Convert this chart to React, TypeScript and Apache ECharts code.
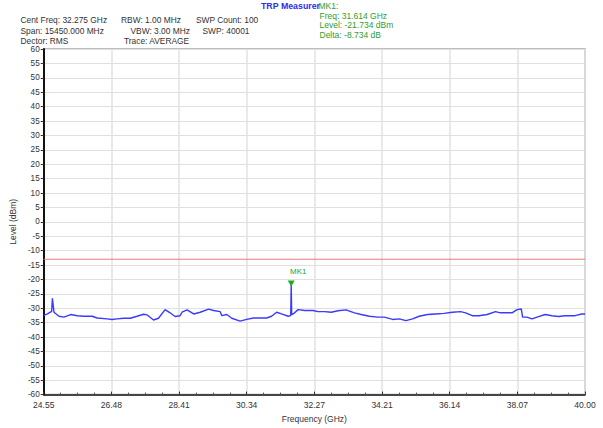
import React, { useEffect, useRef } from "react";
import * as echarts from "echarts";

const FREQ_GHZ = [
  24.55, 24.655, 24.777, 24.797, 24.843, 24.985, 25.127, 25.317, 25.507, 25.695,
  25.933, 26.075, 26.359, 26.501, 26.643, 26.831, 27.021, 27.211, 27.399, 27.495,
  27.683, 27.825, 28.015, 28.157, 28.299, 28.441, 28.498, 28.64, 28.83, 29.017,
  29.256, 29.398, 29.586, 29.634, 29.776, 29.918, 30.154, 30.344, 30.534, 30.722,
  30.912, 31.054, 31.196, 31.338, 31.528, 31.6, 31.614, 31.628, 31.67, 31.812,
  32.0, 32.238, 32.38, 32.568, 32.758, 32.948, 33.184, 33.278, 33.42, 33.61,
  33.846, 34.084, 34.272, 34.51, 34.698, 34.888, 35.078, 35.266, 35.504, 35.74,
  35.976, 36.214, 36.45, 36.592, 36.782, 36.97, 37.208, 37.444, 37.586, 37.776,
  37.918, 38.06, 38.182, 38.219, 38.344, 38.486, 38.674, 38.864, 39.054, 39.242,
  39.432, 39.716, 39.906, 40.0,
];

const LEVEL_DBM = [
  -32.5, -32.0, -31.1, -26.6, -31.4, -32.8, -33.1, -32.2, -32.6, -32.8,
  -32.8, -33.4, -33.7, -33.9, -33.7, -33.5, -33.5, -32.8, -32.1, -32.3,
  -34.1, -33.5, -30.5, -31.6, -32.9, -32.6, -31.4, -30.6, -32.0, -31.4,
  -30.3, -30.8, -31.2, -32.6, -32.2, -33.5, -34.5, -33.9, -33.4, -33.4,
  -33.4, -32.8, -31.4, -32.0, -32.8, -32.6, -21.734, -32.2, -32.0, -30.5,
  -30.8, -30.8, -31.2, -31.2, -31.4, -30.9, -30.6, -31.0, -31.6, -32.2,
  -32.8, -33.1, -33.1, -33.9, -33.7, -34.3, -33.7, -32.8, -32.2, -32.0,
  -31.8, -31.4, -31.2, -31.6, -32.6, -32.6, -32.2, -31.2, -31.6, -31.6,
  -31.6, -30.5, -30.3, -33.1, -33.1, -33.7, -32.9, -32.2, -32.6, -32.9,
  -32.6, -32.6, -32.0, -32.0,
];

const X_TICK_LABELS = ["24.55", "26.48", "28.41", "30.34", "32.27", "34.21", "36.14", "38.07", "40.00"];
const X_MIN = 24.55;
const X_MAX = 40.0;
const Y_MIN = -60;
const Y_MAX = 60;
const Y_STEP = 5;
const THRESHOLD_DBM = -13;
const MARKER_FREQ = 31.614;
const MARKER_LEVEL = -21.734;

const INFO_LINES = [
  ["Cent Freq: 32.275 GHz", "RBW: 1.00 MHz", "SWP Count: 100"],
  ["Span: 15450.000 MHz", "VBW: 3.00 MHz", "SWP: 40001"],
  ["Dector: RMS", "Trace: AVERAGE", ""],
];
const MARKER_LINES = ["MK1:", "Freq: 31.614 GHz", "Level: -21.734 dBm", "Delta: -8.734 dB"];

const FONT = "'Liberation Sans', Arial, sans-serif";

export default function App() {
  const ref = useRef<HTMLDivElement>(null);
  useEffect(() => {
    document.body.style.margin = "0";
    if (!ref.current) return;
    const chart = echarts.init(ref.current, undefined, { renderer: "svg" });
    const data = FREQ_GHZ.map((f, i) => [f, LEVEL_DBM[i]]);
    const colX = [[20.5, 121, 196], [20.5, 130.5, 202.5], [20.5, 124, 0]];
    const rowY = [20.3, 30.6, 40.6];
    const graphics: any[] = [];
    INFO_LINES.forEach((row, r) => {
      row.forEach((t, c) => {
        if (!t) return;
        graphics.push({
          type: "text",
          x: colX[r][c],
          y: rowY[r],
          style: {
            text: t,
            fill: "#333",
            font: `8.4px ${FONT}`,
            verticalAlign: "middle",
            lineHeight: 8,
          },
        });
      });
    });
    graphics.push({
      type: "text",
      x: 261,
      y: 6,
      style: {
        text: "TRP Measurer",
        fill: "#2b2bf0",
        font: `bold 8.8px ${FONT}`,
        verticalAlign: "middle",
        lineHeight: 9,
      },
    });
    MARKER_LINES.forEach((t, i) => {
      graphics.push({
        type: "text",
        x: i === 0 ? 318.5 : 319.5,
        y: 6 + i * 9.6,
        style: {
          text: t,
          fill: "#2e9e2e",
          font: `8.5px ${FONT}`,
          verticalAlign: "middle",
          lineHeight: 8,
        },
      });
    });

    chart.setOption({
      animation: false,
      backgroundColor: "#fff",
      textStyle: { fontFamily: FONT },
      grid: {
        left: 41,
        right: 18,
        top: 49,
        bottom: 32,
        show: true,
        borderColor: "#a8a8a8",
        borderWidth: 1.5,
      },
      graphic: graphics,
      xAxis: [
        {
          type: "value",
          min: X_MIN,
          max: X_MAX,
          show: false,
          position: "bottom",
        },
        {
          type: "value",
          min: 0,
          max: X_TICK_LABELS.length - 1,
          interval: 1,
          position: "bottom",
          name: "Frequency (GHz)",
          nameLocation: "middle",
          nameGap: 17,
          nameTextStyle: { color: "#333", fontSize: 8.5, fontFamily: FONT },
          axisLine: { show: true, lineStyle: { color: "#111", width: 1.5 } },
          axisTick: { show: true, inside: true, length: 3, lineStyle: { color: "#333" } },
          minorTick: { show: true, splitNumber: 4, length: 2, lineStyle: { color: "#555" } },
          axisLabel: {
            color: "#333",
            fontSize: 8.5,
            margin: 6,
            lineHeight: 8,
            formatter: (v: number) => X_TICK_LABELS[Math.round(v)] ?? "",
          },
          splitLine: { show: true, lineStyle: { color: "#e2e2e2", width: 1.5 } },
        },
      ],
      yAxis: {
        type: "value",
        min: Y_MIN,
        max: Y_MAX,
        interval: Y_STEP,
        name: "Level (dBm)",
        nameLocation: "middle",
        nameGap: 20,
        nameTextStyle: { color: "#333", fontSize: 8.5, fontFamily: FONT },
        axisLine: { show: true, lineStyle: { color: "#111", width: 2 } },
        axisTick: { show: true, length: 3, lineStyle: { color: "#333" } },
        axisLabel: { color: "#333", fontSize: 8.2, margin: 4, lineHeight: 8 },
        splitLine: { show: true, lineStyle: { color: "#e0e0e0", width: 1 } },
      },
      series: [
        {
          type: "line",
          xAxisIndex: 0,
          data: [
            [X_MIN, THRESHOLD_DBM],
            [X_MAX, THRESHOLD_DBM],
          ],
          symbol: "none",
          lineStyle: { color: "#f07878", width: 1 },
          silent: true,
        },
        {
          type: "line",
          xAxisIndex: 0,
          data,
          symbol: "none",
          lineStyle: { color: "#3a3aff", width: 1.4 },
          markPoint: {
            data: [{ coord: [MARKER_FREQ, MARKER_LEVEL] }],
            symbol: "triangle",
            symbolRotate: 180,
            symbolSize: [7, 6],
            symbolOffset: [0, -1],
            itemStyle: { color: "#22aa22" },
            label: {
              show: true,
              formatter: "MK1",
              position: "top",
              offset: [7, 0],
              color: "#2e9e2e",
              fontSize: 8,
            },
          },
        },
      ],
    });
    return () => chart.dispose();
  }, []);
  return <div ref={ref} style={{ width: 603, height: 428 }} />;
}
